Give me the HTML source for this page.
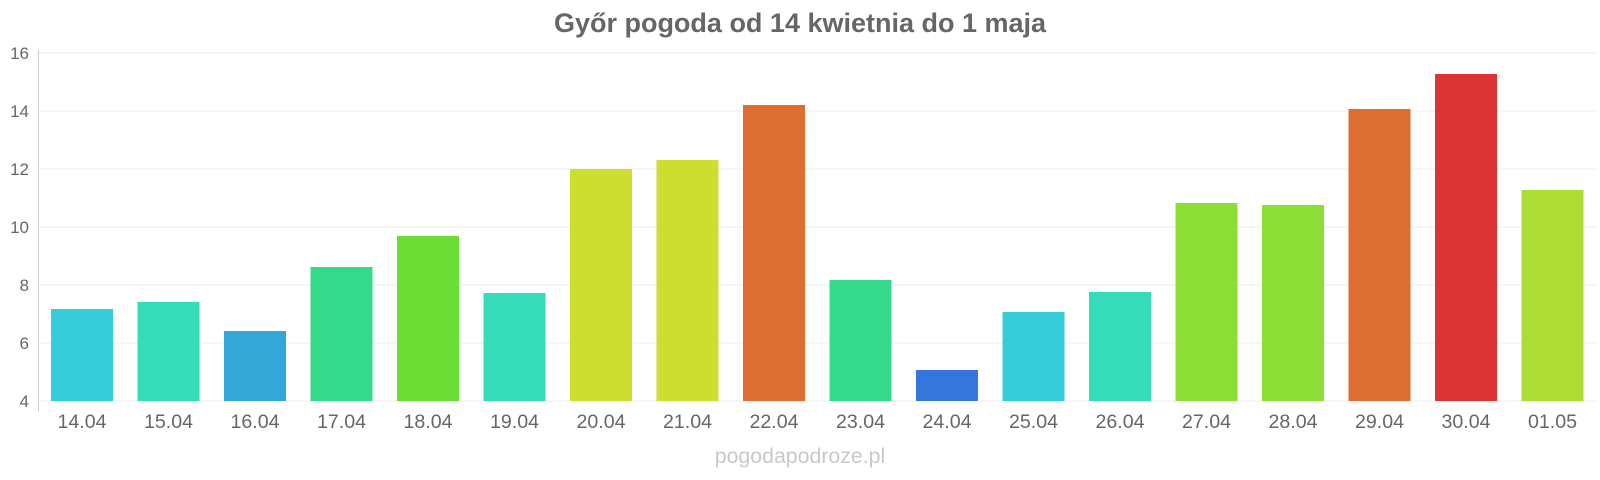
<!DOCTYPE html>
<html><head><meta charset="utf-8"><style>
html,body{margin:0;padding:0;background:#fff;}
svg{display:block;font-family:"Liberation Sans",sans-serif;}
</style></head><body>
<svg width="1600" height="480" xmlns="http://www.w3.org/2000/svg">
<text x="800" y="32" text-anchor="middle" font-size="27" font-weight="bold" fill="#666">Győr pogoda od 14 kwietnia do 1 maja</text>
<g stroke="#f3f3f3" stroke-width="1.5">
<line x1="38" x2="1595" y1="53" y2="53"/><line x1="38" x2="1595" y1="111" y2="111"/>
<line x1="38" x2="1595" y1="169" y2="169"/><line x1="38" x2="1595" y1="227" y2="227"/>
<line x1="38" x2="1595" y1="285" y2="285"/><line x1="38" x2="1595" y1="343" y2="343"/>
<line x1="38" x2="1595" y1="401" y2="401"/>
</g>
<line x1="38.5" x2="38.5" y1="50" y2="411" stroke="#ccc" stroke-width="1"/>
<g font-size="17" fill="#666" text-anchor="end">
<text x="29" y="59">16</text><text x="29" y="117">14</text><text x="29" y="175">12</text>
<text x="29" y="233">10</text><text x="29" y="291">8</text><text x="29" y="349">6</text><text x="29" y="407">4</text>
</g>
<g>
<rect x="51" y="309" width="62" height="92" fill="#34cdd9"/>
<rect x="137.5" y="302" width="62" height="99" fill="#34dcb9"/>
<rect x="224" y="331" width="62" height="70" fill="#34a7d9"/>
<rect x="310.5" y="267" width="62" height="134" fill="#34d98a"/>
<rect x="397" y="236" width="62" height="165" fill="#6ade34"/>
<rect x="483.5" y="293" width="62" height="108" fill="#34dcb9"/>
<rect x="570" y="169" width="62" height="232" fill="#cdde30"/>
<rect x="656.5" y="160" width="62" height="241" fill="#cdde30"/>
<rect x="743" y="105" width="62" height="296" fill="#dc6e33"/>
<rect x="829.5" y="280" width="62" height="121" fill="#34d98a"/>
<rect x="916" y="370" width="62" height="31" fill="#3476db"/>
<rect x="1002.5" y="312" width="62" height="89" fill="#34cdd9"/>
<rect x="1089" y="292" width="62" height="109" fill="#34dcb9"/>
<rect x="1175.5" y="203" width="62" height="198" fill="#8bde34"/>
<rect x="1262" y="205" width="62" height="196" fill="#8bde34"/>
<rect x="1348.5" y="109" width="62" height="292" fill="#dc6e33"/>
<rect x="1435" y="74" width="62" height="327" fill="#dc3434"/>
<rect x="1521.5" y="190" width="62" height="211" fill="#addc34"/>
</g>
<g font-size="19.6" fill="#666" text-anchor="middle">
<text x="82" y="428">14.04</text><text x="168.5" y="428">15.04</text><text x="255" y="428">16.04</text>
<text x="341.5" y="428">17.04</text><text x="428" y="428">18.04</text><text x="514.5" y="428">19.04</text>
<text x="601" y="428">20.04</text><text x="687.5" y="428">21.04</text><text x="774" y="428">22.04</text>
<text x="860.5" y="428">23.04</text><text x="947" y="428">24.04</text><text x="1033.5" y="428">25.04</text>
<text x="1120" y="428">26.04</text><text x="1206.5" y="428">27.04</text><text x="1293" y="428">28.04</text>
<text x="1379.5" y="428">29.04</text><text x="1466" y="428">30.04</text><text x="1552.5" y="428">01.05</text>
</g>
<text x="800" y="463" text-anchor="middle" font-size="21.3" fill="#c8c8c8">pogodapodroze.pl</text>
</svg>
</body></html>
